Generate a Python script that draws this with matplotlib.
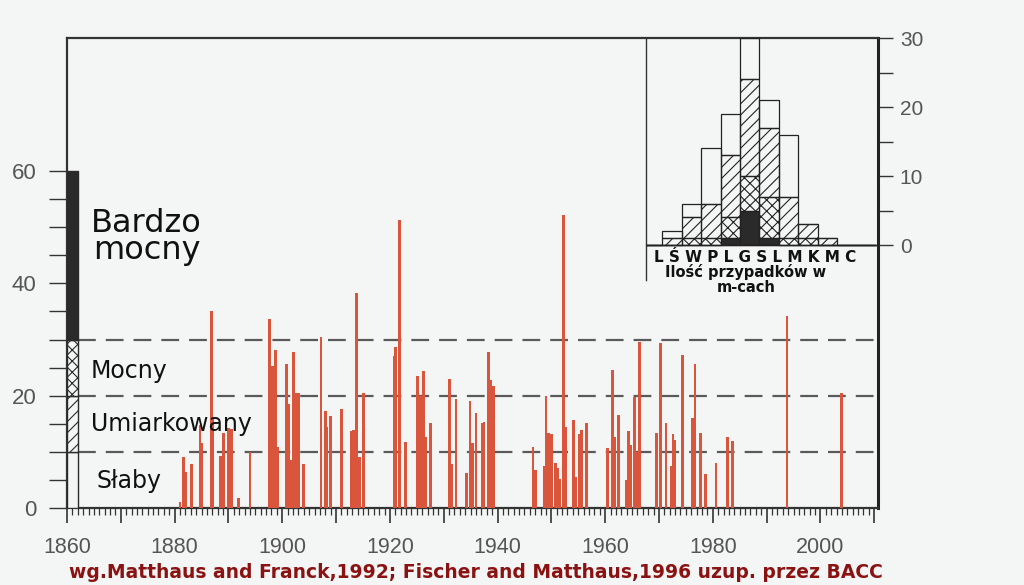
import matplotlib
matplotlib.use("Agg")
import matplotlib.pyplot as plt
from matplotlib.ticker import FixedLocator, FuncFormatter, MultipleLocator

plt.rcParams['hatch.linewidth'] = 0.8
plt.rcParams['hatch.color'] = '#222222'

# ---------------- data ----------------
# inflow events: position (year, fractional) and intensity index
event_years = [1881.0, 1881.6, 1882.0, 1883.1, 1884.7, 1885.1, 1886.8, 1887.1,
               1888.5, 1889.1, 1890.0, 1890.6, 1891.9, 1894.0, 1897.7, 1898.2,
               1898.7, 1899.1, 1900.8, 1901.2, 1901.7, 1902.1, 1902.7, 1903.1,
               1903.9, 1907.2, 1908.0, 1908.3, 1909.0, 1911.0, 1912.9, 1913.2,
               1913.8, 1914.3, 1915.1, 1920.8, 1921.1, 1921.8, 1922.9, 1925.2,
               1925.7, 1926.2, 1926.7, 1927.6, 1931.1, 1931.4, 1932.3, 1934.3,
               1934.9, 1935.4, 1936.0, 1937.1, 1937.5, 1938.3, 1938.8, 1939.3,
               1946.6, 1947.1, 1948.7, 1949.0, 1949.5, 1950.1, 1950.7, 1951.1,
               1951.6, 1952.2, 1952.6, 1954.1, 1954.5, 1955.2, 1955.6, 1956.5,
               1960.4, 1961.4, 1961.8, 1962.5, 1964.0, 1964.3, 1964.8, 1965.4,
               1965.8, 1966.4, 1969.5, 1970.3, 1971.3, 1972.3, 1972.6, 1972.9,
               1974.4, 1976.3, 1976.7, 1977.7, 1978.6, 1980.6, 1982.8, 1983.7,
               1993.8, 2003.9]
event_values = [1.1, 9.1, 6.5, 7.9, 14.7, 11.6, 35.0, 16.2,
                9.3, 13.4, 14.2, 14.0, 1.8, 10.0, 33.6, 25.2,
                28.1, 10.9, 25.6, 18.6, 8.5, 27.8, 20.4, 20.5,
                7.8, 30.4, 17.3, 14.5, 16.3, 17.6, 13.7, 13.9,
                38.2, 9.1, 20.5, 27.0, 28.7, 51.3, 11.8, 23.5,
                19.9, 24.4, 12.7, 15.2, 23.0, 7.8, 19.4, 6.3,
                19.1, 11.5, 17.0, 15.2, 15.3, 27.7, 22.8, 21.8,
                10.8, 6.8, 7.4, 19.9, 13.3, 13.1, 8.0, 7.1,
                5.2, 52.2, 14.5, 15.7, 5.6, 13.2, 13.9, 15.1,
                10.7, 24.6, 12.7, 16.6, 5.0, 13.8, 11.2, 19.8,
                10.0, 29.5, 13.3, 29.3, 15.1, 7.4, 13.2, 12.1,
                27.3, 16.0, 25.6, 13.4, 6.0, 8.1, 12.7, 12.0,
                34.2, 20.4]

# intensity classes (lower bound, upper bound) and labels
class_names = ["Słaby", "Umiarkowany", "Mocny", "Bardzo\nmocny"]
class_bounds = [(0, 10), (10, 20), (20, 30), (30, 60)]
threshold_lines = [10, 20, 30]

# monthly histogram (July ... June), counts per class
month_letters = ["L", "Ś", "W", "P", "L", "G", "S", "L", "M", "K", "M", "C"]
cnt_bardzo_mocny = [0, 0, 0, 0, 1, 5, 1, 0, 0, 0, 0, 0]
cnt_mocny        = [0, 0, 1, 1, 3, 5, 6, 1, 1, 0, 0, 0]
cnt_umiarkowany  = [0, 1, 3, 5, 9, 14, 10, 6, 2, 1, 0, 0]
cnt_slaby        = [0, 1, 2, 8, 6, 6, 4, 9, 0, 0, 0, 0]

x_ticks_labeled = [1860, 1880, 1900, 1920, 1940, 1960, 1980, 2000]
y_ticks_labeled = [0, 20, 40, 60]
inset_ticks_labeled = [0, 10, 20, 30]

footnote = "wg.Matthaus and Franck,1992; Fischer and Matthaus,1996 uzup. przez BACC"

# ---------------- style ----------------
BG = '#f4f6f5'
RED = '#d9553b'
DARK = '#2a2a2a'
GREY = '#555555'

fig = plt.figure(figsize=(10.24, 5.85), dpi=100, facecolor=BG)
W, H = 1024, 585
ax = fig.add_axes([67 / W, (H - 508) / H, (878 - 67) / W, (508 - 38) / H])
ax.set_facecolor(BG)
ax.set_xlim(1860, 2010.7)
ax.set_ylim(0, 83.7)

# class legend bar at the left
hatches = [None, '///', 'xxx', None]
faces = [BG, BG, BG, DARK]
for (lo, hi), h, fc in zip(class_bounds, hatches, faces):
    ax.bar(1860, hi - lo, bottom=lo, width=2.05, align='edge', facecolor=fc,
           edgecolor=DARK, linewidth=1.0, hatch=h, zorder=4)

# threshold dashed lines
ax.hlines(threshold_lines, 1862.05, 2010.7, colors='#5a5a5a',
          linestyles=(0, (8, 4.5)), linewidth=1.6, zorder=2)

# event bars
ax.bar(event_years, event_values, width=0.52, color=RED, linewidth=0, zorder=3)

# class labels
lab_pos = [(1865.5, 4.8), (1864.4, 15.0), (1864.4, 24.4)]
for (x, y), name in zip(lab_pos, class_names[:3]):
    ax.text(x, y, name, fontsize=17, family='DejaVu Sans', color='#111111',
            ha='left', va='center', zorder=5)
ax.text(1874.8, 48.3, class_names[3], fontsize=23, family='DejaVu Sans',
        color='#111111', ha='center', va='center', linespacing=0.85, zorder=5)

# spines
for s in ['left', 'bottom', 'top']:
    ax.spines[s].set_color('#333333')
    ax.spines[s].set_linewidth(1.6)
ax.spines['right'].set_color('#222222')
ax.spines['right'].set_linewidth(2.2)

# ticks
ax.xaxis.set_major_locator(MultipleLocator(10))
ax.xaxis.set_minor_locator(MultipleLocator(1))
ax.xaxis.set_major_formatter(FuncFormatter(
    lambda v, p: f"{int(round(v))}" if int(round(v)) in x_ticks_labeled else ""))
ax.yaxis.set_major_locator(FixedLocator(list(range(0, 65, 5))))
ax.yaxis.set_major_formatter(FuncFormatter(
    lambda v, p: f"{int(round(v))}" if int(round(v)) in y_ticks_labeled else ""))
ax.tick_params(axis='x', which='major', direction='out', length=11, width=1.2,
               color='#333333', labelsize=15.5, labelcolor=GREY, pad=10)
ax.tick_params(axis='x', which='minor', direction='out', length=5, width=0.9,
               color='#333333')
ax.tick_params(axis='y', which='major', direction='out', length=13, width=1.0,
               color='#333333', labelsize=16, labelcolor=GREY, pad=9)
for lbl in ax.get_xticklabels() + ax.get_yticklabels():
    lbl.set_family('Liberation Sans')

# ---------------- inset: monthly histogram ----------------
ins = fig.add_axes([646 / W, (H - 280) / H, (879 - 646) / W, (280 - 38) / H])
ins.patch.set_alpha(0)
ins.set_xlim(-0.35, 11.66)
ins.set_ylim(-5.07, 30.0)
months = list(range(len(month_letters)))
b0 = [0] * 12
b1 = [a + b for a, b in zip(b0, cnt_bardzo_mocny)]
b2 = [a + b for a, b in zip(b1, cnt_mocny)]
b3 = [a + b for a, b in zip(b2, cnt_umiarkowany)]
layers = [(cnt_bardzo_mocny, b0, DARK, None),
          (cnt_mocny, b1, 'none', 'xxx'),
          (cnt_umiarkowany, b2, 'none', '///'),
          (cnt_slaby, b3, 'none', None)]
for cnt, bot, fc, h in layers:
    ins.bar(months, cnt, bottom=bot, width=1.0, facecolor=fc, hatch=h,
            edgecolor='#222222', linewidth=0.9, zorder=3)
ins.axhline(0, color='#222222', linewidth=1.0, zorder=4)
for s in ['top', 'right', 'bottom']:
    ins.spines[s].set_visible(False)
ins.spines['left'].set_color('#333333')
ins.spines['left'].set_linewidth(1.0)
ins.set_xticks([])
ins.yaxis.tick_right()
ins.yaxis.set_major_locator(FixedLocator(list(range(0, 35, 5))))
ins.yaxis.set_major_formatter(FuncFormatter(
    lambda v, p: f"{int(round(v))}" if int(round(v)) in inset_ticks_labeled else ""))
ins.tick_params(axis='y', which='major', direction='out', length=10, width=1.0,
                color='#333333', labelsize=15, labelcolor=GREY, pad=5,
                left=False, right=True)
for lbl in ins.get_yticklabels():
    lbl.set_family('Liberation Sans')

ins.text(5.3, -0.75, " ".join(month_letters), fontsize=11, fontweight='bold',
         family='DejaVu Sans', ha='center', va='top', color='#111111')
ins.text(4.8, -2.75, "Ilość przypadków w\nm-cach", fontsize=10.5,
         fontweight='bold', family='DejaVu Sans', ha='center', va='top',
         color='#111111', linespacing=1.0)

fig.text(476 / W, 1 - 572 / H, footnote, fontsize=13.5, fontweight='bold',
         family='DejaVu Sans', color='#8b1212', ha='center', va='center')

fig.savefig('out.png', dpi=100, facecolor=BG)
